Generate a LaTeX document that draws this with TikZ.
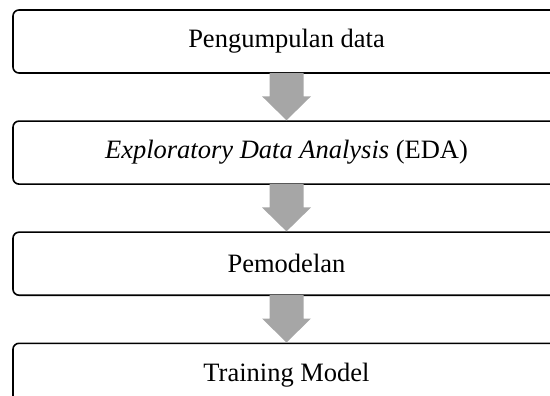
\documentclass[tikz,border=0pt]{standalone}
\usepackage{fontspec}
\setmainfont{Liberation Serif}
\usetikzlibrary{positioning,calc}
\definecolor{flowgray}{RGB}{166,166,166}

\begin{document}
\begin{tikzpicture}[x=1pt, y=1pt, node distance=46.5pt]
			\tikzstyle{stage} = [draw, line width=1.6pt, rounded corners=6pt, minimum width=547pt, minimum height=63pt, inner sep=0pt, font=\fontsize{26.5}{30}\selectfont]
			\tikzstyle{flow} = [fill=flowgray, draw=none]
			\useasboundingbox (0,0) rectangle (550,-396);
			\clip (0,0) rectangle (550,-396);
			\node[stage] (P) at (286.5,-41.5) {Pengumpulan data};
			\node[stage, below=of P] (E) {\textit{Exploratory Data Analysis} (EDA)};
			\node[stage, below=of E] (M) {Pemodelan};
			\node[stage, below=of M] (T) {Training Model};
			% block arrows between the stages
			\foreach \a/\b in {P/E, E/M, M/T}
			\fill[flow] ($(\a.south)+(-17,0.8)$) -- ($(\a.south)+(17,0.8)$) -- ($(\a.south)+(17,-22.5)$)
			-- ($(\a.south)+(24.5,-22.5)$) -- (\b.north) -- ($(\a.south)+(-24.5,-22.5)$)
			-- ($(\a.south)+(-17,-22.5)$) -- cycle;
\end{tikzpicture}
\end{document}
